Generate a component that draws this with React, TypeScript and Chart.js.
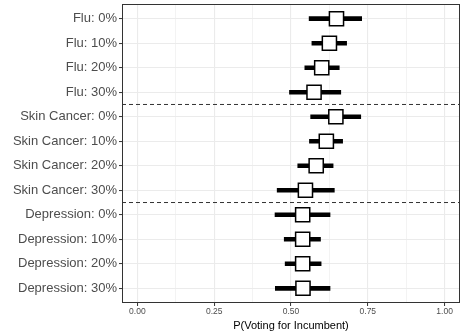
import React, { useEffect, useRef } from "react";
import { Chart, registerables } from "chart.js";

Chart.register(...registerables);

const categories = [
  "Flu: 0%", "Flu: 10%", "Flu: 20%", "Flu: 30%",
  "Skin Cancer: 0%", "Skin Cancer: 10%", "Skin Cancer: 20%", "Skin Cancer: 30%",
  "Depression: 0%", "Depression: 10%", "Depression: 20%", "Depression: 30%",
];
const estimates = [0.648, 0.625, 0.600, 0.575, 0.646, 0.615, 0.582, 0.547, 0.538, 0.538, 0.538, 0.539];
const lower = [0.559, 0.568, 0.545, 0.495, 0.564, 0.560, 0.522, 0.455, 0.448, 0.478, 0.481, 0.449];
const upper = [0.730, 0.681, 0.657, 0.662, 0.727, 0.668, 0.637, 0.641, 0.627, 0.596, 0.598, 0.627];
const groupBreaks = [4.5, 8.5];
const xMajorTicks = [0, 0.25, 0.5, 0.75, 1];
const xMinorTicks = [0.125, 0.375, 0.625, 0.875];
const xTitle = "P(Voting for Incumbent)";

const FONT = "'Liberation Sans', Arial, Helvetica, sans-serif";

const borderPlugin = {
  id: "panelBorder",
  afterDraw(chart: any) {
    const { ctx, chartArea } = chart;
    ctx.save();
    ctx.strokeStyle = "#333333";
    ctx.lineWidth = 1;
    ctx.strokeRect(chartArea.left + 0.5, chartArea.top + 0.5, chartArea.right - chartArea.left - 1, chartArea.bottom - chartArea.top - 1);
    ctx.restore();
  },
};

export default function App() {
  const ref = useRef<HTMLCanvasElement>(null);
  useEffect(() => {
    if (!ref.current) return;
    const isMajor = (v: number) => xMajorTicks.some((t) => Math.abs(t - v) < 1e-9);
    const datasets: any[] = [
      {
        type: "scatter",
        data: categories.map((_, i) => ({ x: estimates[i], y: i + 1 })),
        pointStyle: "rect",
        pointRadius: 10,
        pointHoverRadius: 10,
        backgroundColor: "#ffffff",
        borderColor: "#000000",
        borderWidth: 1.5,
        order: 0,
      },
      {
        type: "bar",
        indexAxis: "y",
        data: categories.map((_, i) => ({ y: i + 1, x: [lower[i], upper[i]] })),
        backgroundColor: "#000000",
        borderWidth: 0,
        barThickness: 4,
        grouped: false,
        order: 1,
      },
      ...groupBreaks.map((b) => ({
        type: "line",
        data: [{ x: -0.05, y: b }, { x: 1.05, y: b }],
        borderColor: "#333333",
        borderWidth: 1,
        borderDash: [4, 3],
        pointRadius: 0,
        fill: false,
        order: 2,
      })),
    ];
    const chart = new Chart(ref.current, {
      type: "scatter",
      data: { datasets },
      plugins: [borderPlugin],
      options: {
        animation: false,
        responsive: false,
        maintainAspectRatio: false,
        layout: { autoPadding: false, padding: { top: 4, right: 0, left: 0, bottom: 0 } },
        plugins: { legend: { display: false }, tooltip: { enabled: false } },
        scales: {
          x: {
            type: "linear",
            min: -0.05,
            max: 1.05,
            offset: false,
            afterBuildTicks: (scale: any) => {
              scale.ticks = [...xMajorTicks, ...xMinorTicks].sort((a, b) => a - b).map((v) => ({ value: v }));
            },
            afterFit: (scale: any) => {
              scale.height = 31;
              scale.paddingLeft = 0;
              scale.paddingRight = 0;
            },
            border: { display: false },
            grid: {
              offset: false,
              color: "#EBEBEB",
              lineWidth: (c: any) => (isMajor(c.tick?.value) ? 1.1 : 0.6),
              tickColor: (c: any) => (isMajor(c.tick?.value) ? "#333333" : "rgba(0,0,0,0)"),
              tickLength: 3,
              tickWidth: 1,
            },
            ticks: {
              autoSkip: false,
              maxRotation: 0,
              padding: 1,
              color: "#4D4D4D",
              font: { family: FONT, size: 8.5 },
              callback: (v: any) => (isMajor(Number(v)) ? Number(v).toFixed(2) : ""),
            },
            title: {
              display: true,
              text: xTitle,
              color: "#000000",
              font: { family: FONT, size: 11 },
              padding: { top: 1, bottom: 1 },
            },
          },
          y: {
            type: "linear",
            reverse: true,
            min: 0.4,
            max: 12.6,
            offset: false,
            afterBuildTicks: (scale: any) => {
              scale.ticks = categories.map((_, i) => ({ value: i + 1 }));
            },
            afterFit: (scale: any) => {
              scale.width = 122;
              scale.paddingTop = 0;
              scale.paddingBottom = 0;
            },
            border: { display: false },
            grid: {
              offset: false,
              color: "#EBEBEB",
              lineWidth: 1.1,
              tickColor: "#333333",
              tickLength: 3,
              tickWidth: 1,
            },
            ticks: {
              autoSkip: false,
              padding: 2,
              color: "#4D4D4D",
              font: { family: FONT, size: 13 },
              callback: (v: any) => categories[Math.round(Number(v)) - 1] ?? "",
            },
          },
        },
      } as any,
    } as any);
    return () => chart.destroy();
  }, []);
  return (
    <div style={{ position: "fixed", left: 0, top: 0, width: 460, height: 334, background: "#fff" }}>
      <canvas ref={ref} width={460} height={334} style={{ width: 460, height: 334, display: "block" }} />
    </div>
  );
}
